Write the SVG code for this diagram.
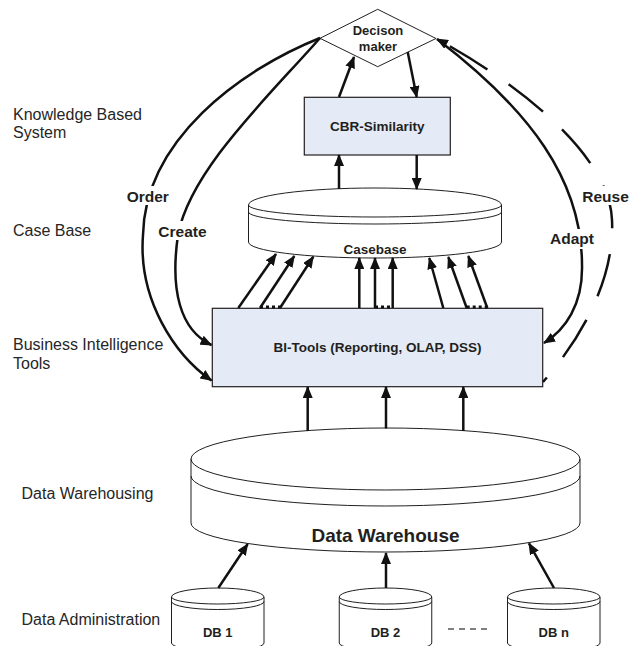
<svg xmlns="http://www.w3.org/2000/svg" width="631" height="646" viewBox="0 0 631 646">
<style>
.lbl{font-family:"Liberation Sans",Arial,sans-serif;font-size:16px;fill:#262626}
.b{font-family:"Liberation Sans",Arial,sans-serif;font-weight:bold;fill:#231f20;text-anchor:middle}
.cl{font-family:"Liberation Sans",Arial,sans-serif;font-weight:bold;font-size:15.5px;fill:#231f20}
.shape{fill:#fff;stroke:#231f20;stroke-width:1}
.box{fill:#e5ebf6;stroke:#231f20;stroke-width:1.2}
.thin{fill:none;stroke:#231f20;stroke-width:1}
.arr{fill:none;stroke:#111;stroke-width:2.5;marker-end:url(#ah)}
.crv{fill:none;stroke:#111;stroke-width:2.5}
.dots{fill:none;stroke:#111;stroke-width:3;stroke-dasharray:3 3}
</style>
<defs>
<marker id="ah" viewBox="0 0 12 10" refX="11" refY="5" markerWidth="12" markerHeight="10" markerUnits="userSpaceOnUse" orient="auto">
<path d="M0,0 L12,5 L0,10 z" fill="#111"/>
</marker>
<g id="cyl">
<path class="shape" d="M-46.25,9 A46.25,9 0 0 1 46.25,9 L46.25,55 A46.25,8 0 0 1 -46.25,55 Z"/>
<path class="thin" d="M-46.25,9 A46.25,7 0 0 0 46.25,9"/>
<path class="thin" d="M-46.25,13.5 A46.25,8 0 0 0 46.25,13.5"/>
</g>
</defs>

<!-- layer labels -->
<g id="layer-labels">
<text class="lbl" x="13" y="120">Knowledge Based</text>
<text class="lbl" x="13" y="138">System</text>
<text class="lbl" x="13" y="236">Case Base</text>
<text class="lbl" x="13" y="350">Business Intelligence</text>
<text class="lbl" x="13" y="368.5">Tools</text>
<text class="lbl" x="21.5" y="499">Data Warehousing</text>
<text class="lbl" x="21.5" y="625">Data Administration</text>
</g>

<!-- nodes -->
<g id="decision-maker">
<polygon class="shape" points="377.7,9.3 436,38.5 377.7,66.7 320,38.3"/>
<text class="b" font-size="13" x="378" y="35">Decison</text>
<text class="b" font-size="13" x="378" y="50.5">maker</text>
</g>

<g id="cbr-similarity">
<rect class="box" x="304.3" y="97.3" width="146" height="57.7"/>
<text class="b" font-size="13.5" x="377.3" y="131">CBR-Similarity</text>
</g>

<g id="casebase">
<path class="shape" d="M248.5,205 A126.5,17 0 0 1 501.5,205 L501.5,242 A126.5,16 0 0 1 248.5,242 Z"/>
<path class="thin" d="M248.5,205 A126.5,12 0 0 0 501.5,205"/>
<path class="thin" d="M248.5,212 A126.5,12 0 0 0 501.5,212"/>
<text class="b" font-size="13.5" x="375" y="254">Casebase</text>
</g>

<g id="bi-tools">
<rect class="box" x="212.3" y="308.3" width="330.4" height="78.4"/>
<text class="b" font-size="13.5" x="377.5" y="351.5">BI-Tools (Reporting, OLAP, DSS)</text>
</g>

<g id="data-warehouse">
<path class="shape" d="M191,459 A194.5,31 0 0 1 580,459 L580,523 A194.5,29 0 0 1 191,523 Z"/>
<path class="thin" d="M191,459 A194.5,31 0 0 0 580,459"/>
<path class="thin" d="M191,476 A194.5,30 0 0 0 580,476"/>
<text class="b" font-size="19" x="385.5" y="542">Data Warehouse</text>
</g>

<g id="db1">
<use href="#cyl" transform="translate(217.75,588)"/>
<text class="b" font-size="13" x="217.75" y="637">DB 1</text>
</g>
<g id="db2">
<use href="#cyl" transform="translate(385.5,588)"/>
<text class="b" font-size="13" x="385.5" y="637">DB 2</text>
</g>
<g id="dbn">
<use href="#cyl" transform="translate(553.75,588)"/>
<text class="b" font-size="13" x="553.75" y="637">DB n</text>
</g>

<!-- connectors -->
<g id="connectors">
<!-- CBR <-> decision maker -->
<line class="arr" x1="339" y1="97" x2="354" y2="57"/>
<line class="arr" x1="407.7" y1="52" x2="416.7" y2="97"/>
<!-- casebase <-> CBR -->
<line class="arr" x1="339" y1="189" x2="339" y2="155"/>
<line class="arr" x1="416.7" y1="155" x2="416.7" y2="189"/>
<!-- BI -> casebase -->
<line class="arr" x1="238.3" y1="308" x2="276" y2="254"/>
<line class="arr" x1="260" y1="308" x2="294.3" y2="256"/>
<line class="arr" x1="280" y1="308" x2="313.3" y2="256.7"/>
<line class="dots" x1="260" y1="307" x2="281" y2="307"/>
<line class="arr" x1="359.3" y1="308" x2="359.3" y2="258"/>
<line class="arr" x1="375" y1="308" x2="375" y2="258"/>
<line class="arr" x1="392.7" y1="308" x2="392.7" y2="258"/>
<line class="dots" x1="375" y1="307" x2="393" y2="307"/>
<line class="arr" x1="443.3" y1="308" x2="429.3" y2="258"/>
<line class="arr" x1="466.7" y1="308" x2="448.3" y2="257"/>
<line class="arr" x1="487.3" y1="308" x2="468.3" y2="256"/>
<line class="dots" x1="466.7" y1="307" x2="488" y2="307"/>
<!-- DW -> BI -->
<line class="arr" x1="307.7" y1="431" x2="307.7" y2="387"/>
<line class="arr" x1="386" y1="428.5" x2="386" y2="387"/>
<line class="arr" x1="463.3" y1="431" x2="463.3" y2="387"/>
<!-- DBs -> DW -->
<line class="arr" x1="218.3" y1="588" x2="247.7" y2="544"/>
<line class="arr" x1="386" y1="588" x2="386" y2="553"/>
<line class="arr" x1="554" y1="588" x2="529" y2="543.3"/>
<line x1="448" y1="629" x2="487" y2="629" stroke="#555" stroke-width="1.3" stroke-dasharray="6 5"/>
<!-- Order / Create / Adapt / Reuse curves -->
<path class="crv" marker-end="url(#ah)" d="M320,38 C240,70 145,140 143,235 C138,300 175,355 211.5,380.5"/>
<path class="crv" marker-end="url(#ah)" d="M320,38 C270,95 190,170 178,235 C170,290 180,330 211.5,345"/>
<path class="crv" marker-end="url(#ah)" d="M437,39 C530,110 582,180 582,265 C583,305 565,330 544,343"/>
<path class="crv" marker-end="url(#ah)" stroke-dasharray="44 26" stroke-dashoffset="38" d="M543,382 C580,340 615,280 612,220 C610,160 530,90 437,39"/>
</g>

<!-- connector labels -->
<g id="connector-labels">
<rect x="125" y="186" width="47" height="19" fill="#fff"/>
<text class="cl" x="126.7" y="201.5">Order</text>
<rect x="156.5" y="221" width="52" height="19" fill="#fff"/>
<text class="cl" x="158.3" y="236.5">Create</text>
<rect x="548.5" y="229" width="48" height="20" fill="#fff"/>
<text class="cl" x="550" y="244">Adapt</text>
<rect x="580.5" y="186" width="50.5" height="19" fill="#fff"/>
<text class="cl" x="582.3" y="201.5">Reuse</text>
</g>
</svg>
